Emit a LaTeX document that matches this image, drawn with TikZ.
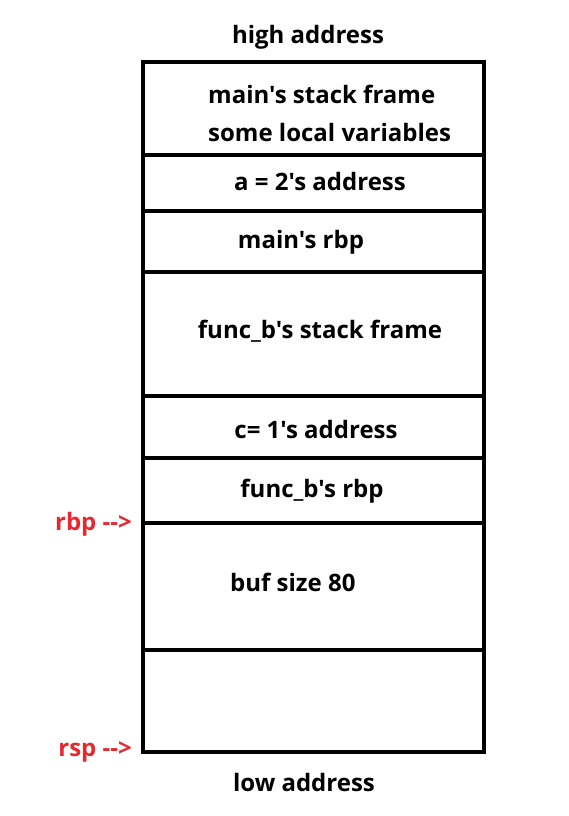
\documentclass[tikz,border=0pt]{standalone}
\usepackage{fontspec}
\setmainfont{Open Sans}[Ligatures=TeXOff]
\usetikzlibrary{positioning}
\definecolor{ptrred}{RGB}{232,40,48}

\tikzset{
  lbl/.style={font=\fontsize{24}{28}\selectfont\bfseries, inner sep=0pt},
  ptr/.style={lbl, text=ptrred, anchor=east},
}

\begin{document}
\begin{tikzpicture}[x=1pt,y=-1pt]
\useasboundingbox (0,0) rectangle (568,816);
% the stack
\draw[line width=4pt] (143,62) rectangle (484,752);
\foreach \yy in {155,211,272,396,458,523,650}
  \draw[line width=4pt] (143,\yy) -- (484,\yy);
% addresses
\node[lbl] (high) at (308,37) {high address};
\node[lbl] (low) at (304,782) {low address};
% cells
\node[lbl, anchor=west] (mainframe) at (208,94) {main's stack frame};
\node[lbl, anchor=west] (locals) at (208,132) {some local variables};
\node[lbl] (aaddr) at (320,181) {a = 2's address};
\node[lbl] (mainrbp) at (301,242) {main's rbp};
\node[lbl] (bframe) at (320,331) {func\_b's stack frame};
\node[lbl] (caddr) at (316,429) {c= 1's address};
\node[lbl] (brbp) at (312,491) {func\_b's rbp};
\node[lbl, anchor=west] (buf) at (230,582) {buf size 80};
% registers
\node[ptr] (rbp) at (132,524) {rbp -->};
\node[ptr] (rsp) at (132,752) {rsp -->};
\end{tikzpicture}
\end{document}
